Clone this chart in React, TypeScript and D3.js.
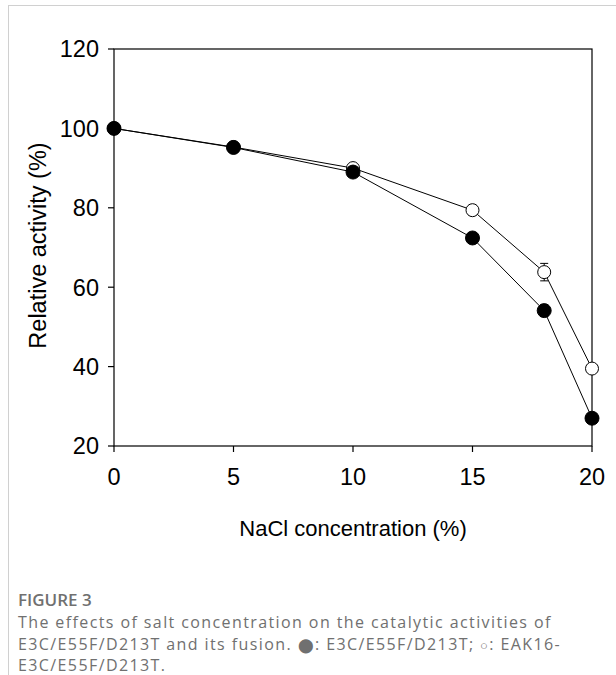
import React from "react";
import * as d3 from "d3";

const concentrations = [0, 5, 10, 15, 18, 20];
const fusionValues = [100, 95.3, 90.0, 79.4, 63.8, 39.5];
const fusionErrors = [0.8, 0.8, 0.8, 1.2, 2.2, 0.8];
const mutantValues = [100, 95.2, 89.0, 72.4, 54.1, 27.0];
const mutantErrors = [0.8, 1.2, 1.0, 1.3, 1.5, 0.8];
const xTicks = [0, 5, 10, 15, 20];
const yTicks = [20, 40, 60, 80, 100, 120];
const xTitle = "NaCl concentration (%)";
const yTitle = "Relative activity (%)";
const captionTitle = "FIGURE 3";
const captionLine1 = "The effects of salt concentration on the catalytic activities of";
const captionLine2a = "E3C/E55F/D213T and its fusion. ";
const captionLine2b = ": E3C/E55F/D213T; ";
const captionLine2c = ": EAK16-";
const captionLine3 = "E3C/E55F/D213T.";

export default function App() {
  const W = 616, H = 675;
  const left = 114, right = 592, top = 49, bottom = 446;
  const x = d3.scaleLinear().domain([0, 20]).range([left, right]);
  const y = d3.scaleLinear().domain([20, 120]).range([bottom, top]);
  const line = d3.line<number>().x((_, i) => x(concentrations[i])).y((v) => y(v));
  const font = "'Liberation Sans', Arial, sans-serif";
  const capFont = "'Open Sans', 'Noto Sans', sans-serif";
  const capColor = "#707070";
  const capX = 18;
  const capSize = 16;
  const ls = 1.4;

  const errBars = (vals: number[], errs: number[], key: string) =>
    vals.map((v, i) => {
      const cx = x(concentrations[i]);
      const y1 = y(v + errs[i]);
      const y2 = y(v - errs[i]);
      return (
        <g key={key + i} stroke="#000" strokeWidth={1}>
          <line x1={cx} x2={cx} y1={y1} y2={y2} />
          <line x1={cx - 4} x2={cx + 4} y1={y1} y2={y1} />
          <line x1={cx - 4} x2={cx + 4} y1={y2} y2={y2} />
        </g>
      );
    });

  return (
    <svg width={W} height={H} style={{ position: "absolute", left: 0, top: 0 }}>
      <rect x={0} y={0} width={W} height={H} fill="#fff" />
      <line x1={8.5} x2={8.5} y1={5} y2={H} stroke="#d0d0d0" strokeWidth={1} />
      <line x1={8} x2={W} y1={5.5} y2={5.5} stroke="#d0d0d0" strokeWidth={1} />

      <rect x={left} y={top} width={right - left} height={bottom - top} fill="none" stroke="#000" strokeWidth={1.2} />

      {yTicks.map((t) => (
        <g key={"y" + t}>
          <line x1={left - 6} x2={left} y1={y(t)} y2={y(t)} stroke="#000" strokeWidth={1.2} />
          <text x={left - 15} y={y(t)} dy="0.36em" textAnchor="end" fontFamily={font} fontSize={23.5}>
            {t}
          </text>
        </g>
      ))}
      {xTicks.map((t) => (
        <g key={"x" + t}>
          <line x1={x(t)} x2={x(t)} y1={bottom} y2={bottom + 6} stroke="#000" strokeWidth={1.2} />
          <text x={x(t)} y={bottom + 39} textAnchor="middle" fontFamily={font} fontSize={23.5}>
            {t}
          </text>
        </g>
      ))}

      <text
        transform={`translate(${46},${(top + bottom) / 2 - 2}) rotate(-90)`}
        textAnchor="middle"
        fontFamily={font}
        fontSize={23.5}
      >
        {yTitle}
      </text>
      <text x={(left + right) / 2} y={536} textAnchor="middle" fontFamily={font} fontSize={22}>
        {xTitle}
      </text>

      <path d={line(fusionValues) || ""} fill="none" stroke="#000" strokeWidth={1} />
      <path d={line(mutantValues) || ""} fill="none" stroke="#000" strokeWidth={1} />

      {errBars(fusionValues, fusionErrors, "fe")}
      {errBars(mutantValues, mutantErrors, "me")}

      {fusionValues.map((v, i) => (
        <circle key={"fo" + i} cx={x(concentrations[i])} cy={y(v)} r={6.5} fill="#fff" stroke="#000" strokeWidth={1} />
      ))}
      {mutantValues.map((v, i) => (
        <circle key={"mo" + i} cx={x(concentrations[i])} cy={y(v)} r={7} fill="#000" stroke="#000" strokeWidth={1} />
      ))}

      <text x={capX} y={606} fontFamily={capFont} fontSize={17} fill={capColor} fontWeight={600}>
        {captionTitle}
      </text>
      <text x={capX} y={628} fontFamily={capFont} fontSize={capSize} letterSpacing={ls} fill={capColor}>
        {captionLine1}
      </text>
      <text x={capX} y={650} fontFamily={capFont} fontSize={capSize} letterSpacing={ls} fill={capColor}>
        {captionLine2a}
        <tspan fontSize={13.5}>{"\u2B24"}</tspan>
        {captionLine2b}
        <tspan fontSize={13}>{"\u25CB"}</tspan>
        {captionLine2c}
      </text>
      <text x={capX} y={671} fontFamily={capFont} fontSize={capSize} letterSpacing={ls} fill={capColor}>
        {captionLine3}
      </text>
    </svg>
  );
}
